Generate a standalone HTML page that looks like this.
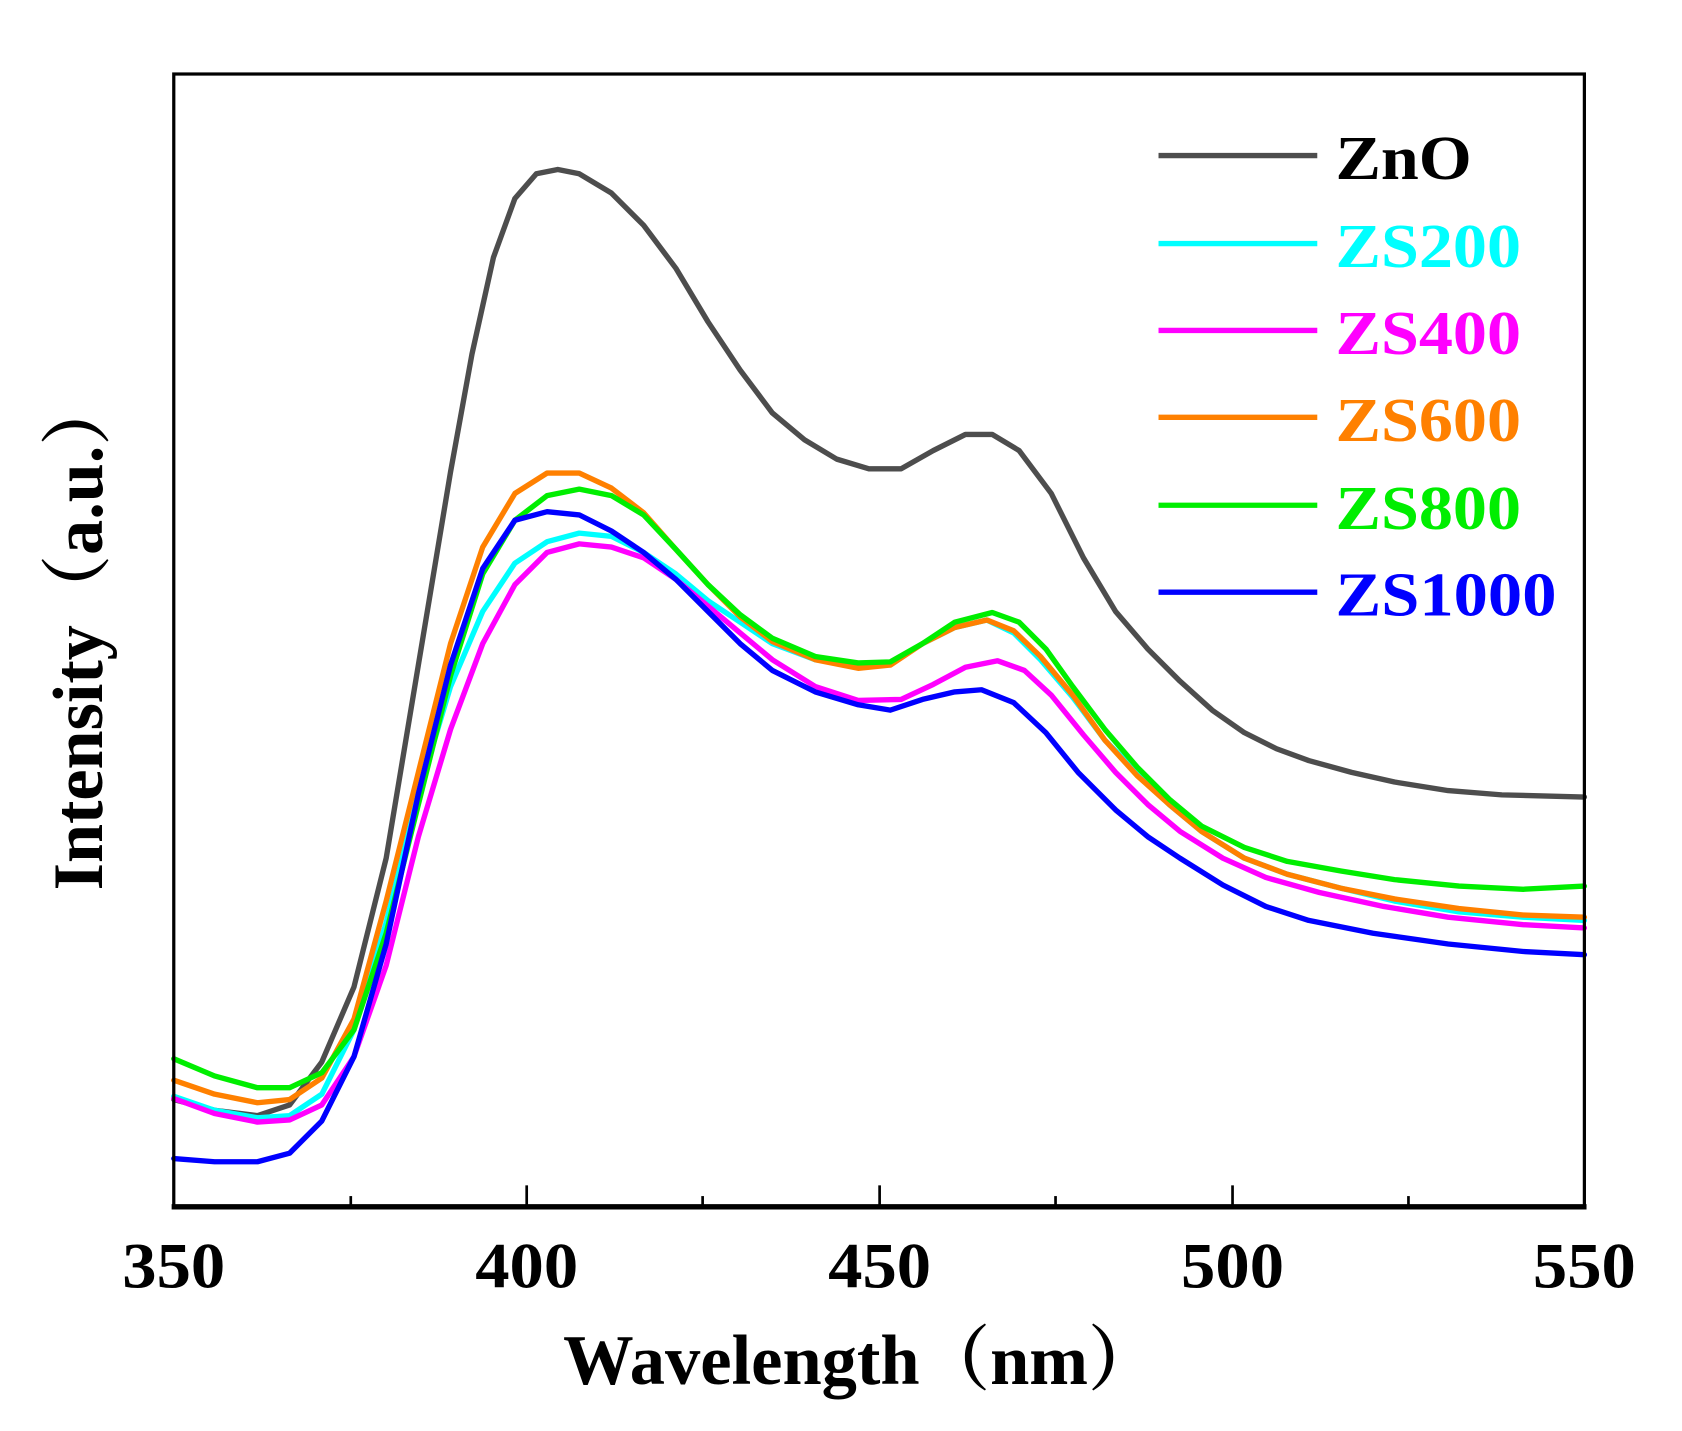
<!DOCTYPE html>
<html><head><meta charset="utf-8"><style>html,body{margin:0;padding:0;background:#fff}svg{display:block}</style></head>
<body>
<svg width="1682" height="1431" viewBox="0 0 1568 1334" preserveAspectRatio="none" xmlns="http://www.w3.org/2000/svg" font-family="'Liberation Serif','Noto Serif CJK SC',serif" font-weight="bold">
<rect width="1568" height="1334" fill="#fff"/>
<g fill="none" stroke-width="5" stroke-linejoin="round" stroke-linecap="round">
<polyline stroke="#4d4d4d" points="162,1025 200,1035 240,1040 270,1030 300,990 330,920 360,800 390,620 420,440 440,330 460,240 480,185 500,162 520,158 540,162 570,180 600,210 630,250 660,300 690,345 720,385 750,410 780,428 810,437 840,437 870,420 900,405 925,405 950,420 980,460 1010,520 1040,570 1070,605 1100,635 1130,662 1160,683 1190,698 1220,709 1260,720 1300,729 1350,737 1400,741 1477,743"/>
<polyline stroke="#00ffff" points="162,1022 200,1035 240,1042 270,1040 300,1020 330,960 360,860 390,740 420,640 450,570 480,525 510,505 540,497 570,500 600,515 630,535 660,560 690,580 720,600 760,615 800,620 830,618 860,600 890,585 920,578 945,590 970,615 1000,650 1030,690 1060,720 1090,750 1120,775 1160,800 1200,815 1250,828 1300,840 1360,850 1420,855 1477,858"/>
<polyline stroke="#ff00ff" points="162,1024 200,1038 240,1046 270,1044 300,1030 330,985 360,900 390,780 420,680 450,600 480,545 510,515 540,507 570,510 600,520 630,540 660,565 690,590 720,615 760,640 800,653 840,652 870,638 900,622 930,616 955,625 980,648 1010,685 1040,720 1070,750 1100,775 1140,800 1180,818 1230,832 1290,845 1350,855 1420,862 1477,865"/>
<polyline stroke="#ff8000" points="162,1007 200,1020 240,1028 270,1025 300,1005 330,950 360,840 390,720 420,600 450,510 480,460 510,441 540,441 570,455 600,478 630,512 660,545 690,575 720,598 760,615 800,623 830,620 860,600 890,585 920,578 945,588 970,612 1000,648 1030,690 1060,723 1090,750 1120,775 1160,800 1200,815 1250,828 1300,838 1360,847 1420,853 1477,855"/>
<polyline stroke="#00ee00" points="162,987 200,1003 240,1014 270,1014 300,1000 330,960 360,870 390,750 420,630 450,535 480,485 510,462 540,456 570,462 600,480 630,512 660,545 690,573 720,595 760,612 800,618 830,617 860,600 890,580 925,571 950,580 975,605 1000,640 1030,680 1060,715 1090,745 1120,770 1160,790 1200,803 1250,812 1300,820 1360,826 1420,829 1477,826"/>
<polyline stroke="#0000ff" points="162,1080 200,1083 240,1083 270,1075 300,1045 330,985 360,880 390,740 420,620 450,530 480,485 510,477 540,480 570,495 600,515 630,540 660,570 690,600 720,625 760,645 800,657 830,662 860,652 890,645 915,643 945,655 975,683 1005,720 1040,755 1070,780 1100,800 1140,825 1180,845 1220,858 1280,870 1350,880 1420,887 1477,890"/>
</g>
<rect x="162" y="69" width="1315" height="1056" fill="none" stroke="#000" stroke-width="3"/>
<line x1="160" y1="1125" x2="1479" y2="1125" stroke="#000" stroke-width="5"/>
<g stroke="#000" stroke-width="2.5">
<line x1="491" y1="1125" x2="491" y2="1105"/><line x1="820" y1="1125" x2="820" y2="1105"/><line x1="1149" y1="1125" x2="1149" y2="1105"/>
<line x1="327" y1="1125" x2="327" y2="1115"/><line x1="655" y1="1125" x2="655" y2="1115"/><line x1="984" y1="1125" x2="984" y2="1115"/><line x1="1313" y1="1125" x2="1313" y2="1115"/>
</g>
<g font-size="60" text-anchor="middle" fill="#000">
<text x="162" y="1200" textLength="96" lengthAdjust="spacingAndGlyphs">350</text>
<text x="491" y="1200" textLength="96" lengthAdjust="spacingAndGlyphs">400</text>
<text x="820" y="1200" textLength="96" lengthAdjust="spacingAndGlyphs">450</text>
<text x="1149" y="1200" textLength="96" lengthAdjust="spacingAndGlyphs">500</text>
<text x="1477" y="1200" textLength="96" lengthAdjust="spacingAndGlyphs">550</text>
</g>
<text x="525" y="1290" font-size="66" textLength="555" lengthAdjust="spacingAndGlyphs">Wavelength（nm）</text>
<text transform="translate(95,830) rotate(-90)" font-size="66" textLength="480" lengthAdjust="spacingAndGlyphs">Intensity（a.u.）</text>
<g stroke-width="5">
<line x1="1080" y1="145" x2="1228" y2="145" stroke="#4d4d4d"/>
<line x1="1080" y1="227" x2="1228" y2="227" stroke="#00ffff"/>
<line x1="1080" y1="308" x2="1228" y2="308" stroke="#ff00ff"/>
<line x1="1080" y1="389" x2="1228" y2="389" stroke="#ff8000"/>
<line x1="1080" y1="471" x2="1228" y2="471" stroke="#00ee00"/>
<line x1="1080" y1="552" x2="1228" y2="552" stroke="#0000ff"/>
</g>
<g font-size="58">
<text x="1245" y="167" fill="#000" textLength="127" lengthAdjust="spacingAndGlyphs">ZnO</text>
<text x="1245" y="249" fill="#00ffff" textLength="173" lengthAdjust="spacingAndGlyphs">ZS200</text>
<text x="1245" y="330" fill="#ff00ff" textLength="173" lengthAdjust="spacingAndGlyphs">ZS400</text>
<text x="1245" y="411" fill="#ff8000" textLength="173" lengthAdjust="spacingAndGlyphs">ZS600</text>
<text x="1245" y="493" fill="#00ee00" textLength="173" lengthAdjust="spacingAndGlyphs">ZS800</text>
<text x="1245" y="574" fill="#0000ff" textLength="206" lengthAdjust="spacingAndGlyphs">ZS1000</text>
</g>
</svg>
</body></html>
